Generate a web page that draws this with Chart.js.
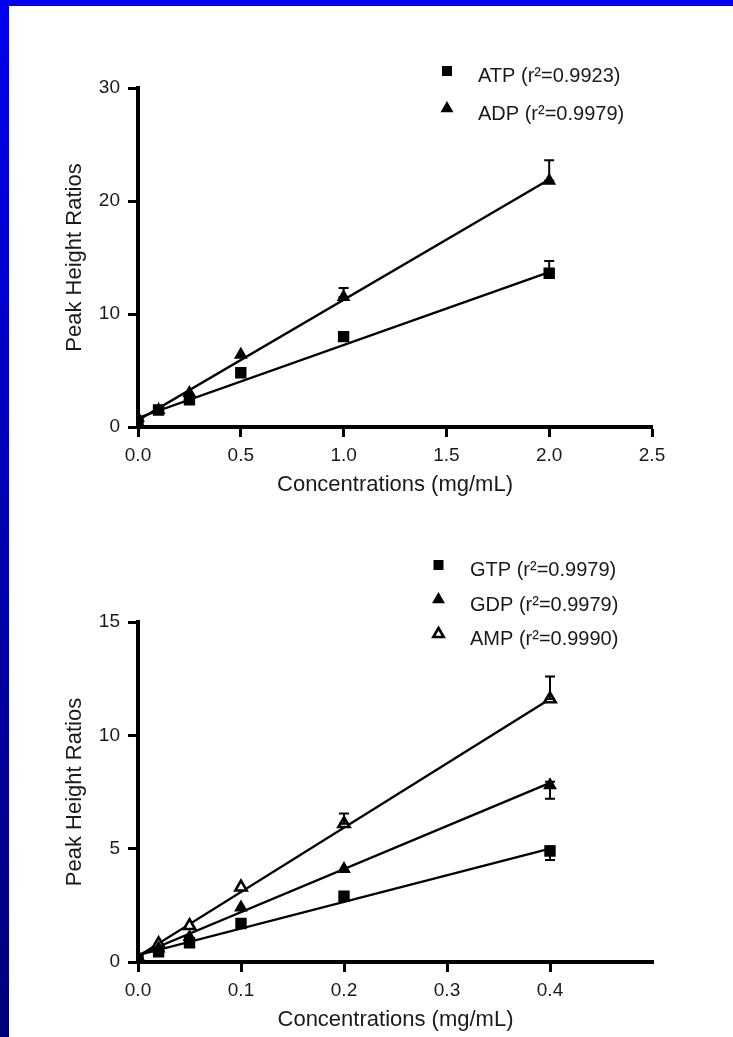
<!DOCTYPE html>
<html>
<head>
  <meta charset="utf-8" />
  <title>Peak Height Ratios</title>
  <script src="https://cdn.jsdelivr.net/npm/chart.js"></script>
  <style>
    html, body { margin: 0; padding: 0; background: #fff; }
    #page { position: relative; width: 733px; height: 1037px; overflow: hidden; background: #fff; }
    #bar-top { position: absolute; left: 0; top: 0; width: 733px; height: 6px; background: #0000ee; }
    #bar-left { position: absolute; left: 0; top: 0; width: 9px; height: 1037px; background: linear-gradient(#0000ee, #00007a); }
    canvas { position: absolute; left: 0; }
    #chart1 { top: 0; }
    #chart2 { top: 500px; }
  </style>
</head>
<body>
<div id="page">
  <canvas id="chart1" width="733" height="510"></canvas>
  <canvas id="chart2" width="733" height="537"></canvas>
  <div id="bar-top"></div>
  <div id="bar-left"></div>
</div>

<script>
  // ---- top panel: ATP / ADP ----
  const conc1 = [0, 0.1, 0.25, 0.5, 1.0, 2.0];
  const atp = [0.5, 1.5, 2.4, 4.8, 8.0, 13.6];
  const adp = [0.8, 1.5, 3.0, 6.4, 11.5, 21.8];
  // error bars [low, high], null where none is drawn
  const atpErr = [null, null, null, null, null, [13.6, 14.7]];
  const adpErr = [null, null, null, null, [11.5, 12.3], [21.8, 23.6]];
  // regression lines (start, end)
  const fitX1 = [0, 2.0];
  const atpFit = [0.8, 13.7];
  const adpFit = [0.6, 21.9];
  const xTicks1 = [0, 0.5, 1.0, 1.5, 2.0, 2.5];
  const yTicks1 = [0, 10, 20, 30];

  // ---- bottom panel: GTP / GDP / AMP ----
  const conc2 = [0, 0.02, 0.05, 0.1, 0.2, 0.4];
  const gtp = [0.1, 0.45, 0.85, 1.7, 2.9, 4.9];
  const gdp = [0.2, 0.6, 1.1, 2.4, 4.1, 7.8];
  const amp = [0.2, 0.8, 1.6, 3.3, 6.1, 11.6];
  const gtpErr = [null, null, null, null, null, [4.5, 5.1]];
  const gdpErr = [null, null, null, null, null, [7.2, 7.95]];
  const ampErr = [null, null, null, null, [6.1, 6.55], [11.6, 12.6]];
  const fitX2 = [0, 0.4];
  const gtpFit = [0.3, 5.0];
  const gdpFit = [0.3, 7.9];
  const ampFit = [0.25, 11.6];
  const xTicks2 = [0, 0.1, 0.2, 0.3, 0.4];
  const yTicks2 = [0, 5, 10, 15];

  Chart.defaults.font.family = '"Liberation Sans", Arial, sans-serif';
  Chart.defaults.color = '#1a1a1a';

  function pts(xs, ys) {
    return xs.map((x, i) => ({ x: x, y: ys[i] }));
  }

  // draw a marker the same way for points and legend
  function drawMarker(ctx, style, x, y, r, fill, bw) {
    ctx.beginPath();
    if (style === 'rect') {
      const s = r * Math.SQRT1_2;
      ctx.rect(x - s, y - s, 2 * s, 2 * s);
    } else {
      ctx.moveTo(x, y - r);
      ctx.lineTo(x + r * 0.866, y + r * 0.5);
      ctx.lineTo(x - r * 0.866, y + r * 0.5);
      ctx.closePath();
    }
    ctx.fillStyle = fill;
    ctx.fill();
    ctx.lineWidth = bw;
    ctx.strokeStyle = '#000';
    ctx.stroke();
  }

  const errorBars = {
    id: 'errorBars',
    afterDatasetsDraw(chart) {
      const { ctx, scales: { x, y } } = chart;
      ctx.save();
      ctx.strokeStyle = '#000';
      ctx.lineWidth = 2;
      chart.data.datasets.forEach(ds => {
        if (!ds.errors) return;
        ds.errors.forEach((e, i) => {
          if (!e) return;
          const px = x.getPixelForValue(ds.data[i].x);
          const lo = y.getPixelForValue(e[0]);
          const hi = y.getPixelForValue(e[1]);
          ctx.beginPath();
          ctx.moveTo(px, lo); ctx.lineTo(px, hi);
          ctx.moveTo(px - 5, lo); ctx.lineTo(px + 5, lo);
          ctx.moveTo(px - 5, hi); ctx.lineTo(px + 5, hi);
          ctx.stroke();
        });
      });
      ctx.restore();
    }
  };

  // legend floating at the top right, like the original figure
  const cornerLegend = {
    id: 'cornerLegend',
    afterDraw(chart, args, opts) {
      const ctx = chart.ctx;
      ctx.save();
      ctx.font = '20px "Liberation Sans", Arial, sans-serif';
      ctx.textBaseline = 'alphabetic';
      let row = 0;
      chart.data.datasets.forEach(ds => {
        if (!ds.inLegend) return;
        const base = opts.y + row * opts.dy;
        drawMarker(ctx, ds.pointStyle, opts.markerX, base - 11, 6, ds.pointBackgroundColor, ds.pointBorderWidth);
        ctx.fillStyle = '#1a1a1a';
        ctx.fillText(ds.label, opts.textX, base);
        row++;
      });
      ctx.restore();
    }
  };

  function markerSet(label, xs, ys, errs, style, fill) {
    return {
      label: label,
      data: pts(xs, ys),
      errors: errs,
      inLegend: true,
      pointStyle: style,
      pointRadius: style === 'rect' ? 7 : 6.5,
      pointBackgroundColor: fill,
      pointBorderColor: '#000',
      pointBorderWidth: fill === '#fff' ? 2.6 : 1.5,
      showLine: false,
      order: 1
    };
  }

  function fitSet(xs, ys) {
    return {
      label: '',
      data: pts(xs, ys),
      showLine: true,
      borderColor: '#000',
      borderWidth: 2.4,
      pointRadius: 0,
      order: 2
    };
  }

  function axes(xMax, xTicks, yMax, yTicks, xFmt, xAxisH, titleBottom) {
    const grid = { display: true, drawOnChartArea: false, drawTicks: true, tickLength: 10, tickWidth: 3, tickColor: '#000' };
    const border = { display: true, color: '#000', width: 4 };
    return {
      x: {
        type: 'linear', min: 0, max: xMax,
        grid: grid, border: border,
        afterBuildTicks: s => { s.ticks = xTicks.map(v => ({ value: v })); },
        afterFit: s => { s.height = xAxisH; },
        ticks: { font: { size: 19 }, padding: 7, maxRotation: 0, autoSkip: false, callback: v => xFmt(v) },
        title: { display: true, text: 'Concentrations (mg/mL)', font: { size: 22 }, color: '#1a1a1a', padding: { top: 0, bottom: titleBottom } }
      },
      y: {
        type: 'linear', min: 0, max: yMax,
        grid: grid, border: border,
        afterBuildTicks: s => { s.ticks = yTicks.map(v => ({ value: v })); },
        afterFit: s => { s.width = 138; },
        ticks: { font: { size: 19 }, padding: 8 },
        title: { display: true, text: 'Peak Height Ratios', font: { size: 22 }, color: '#1a1a1a', padding: { top: 62, bottom: 0 } }
      }
    };
  }

  new Chart(document.getElementById('chart1'), {
    type: 'scatter',
    data: {
      datasets: [
        fitSet(fitX1, atpFit),
        fitSet(fitX1, adpFit),
        markerSet('ATP (r\u00B2=0.9923)', conc1, atp, atpErr, 'rect', '#000'),
        markerSet('ADP (r\u00B2=0.9979)', conc1, adp, adpErr, 'triangle', '#000')
      ]
    },
    options: {
      responsive: false,
      animation: false,
      events: [],
      layout: { padding: { top: 88, right: 81, left: 0, bottom: 0 } },
      scales: axes(2.5, xTicks1, 30, yTicks1, v => v.toFixed(1), 83, 12),
      plugins: {
        legend: { display: false },
        tooltip: { enabled: false },
        cornerLegend: { markerX: 447, textX: 478, y: 82, dy: 37.5 }
      }
    },
    plugins: [errorBars, cornerLegend]
  });

  new Chart(document.getElementById('chart2'), {
    type: 'scatter',
    data: {
      datasets: [
        fitSet(fitX2, gtpFit),
        fitSet(fitX2, gdpFit),
        fitSet(fitX2, ampFit),
        markerSet('GTP (r\u00B2=0.9979)', conc2, gtp, gtpErr, 'rect', '#000'),
        markerSet('GDP (r\u00B2=0.9979)', conc2, gdp, gdpErr, 'triangle', '#000'),
        markerSet('AMP (r\u00B2=0.9990)', conc2, amp, ampErr, 'triangle', '#fff')
      ]
    },
    options: {
      responsive: false,
      animation: false,
      events: [],
      layout: { padding: { top: 122, right: 80, left: 0, bottom: 0 } },
      scales: axes(0.5, xTicks2, 15, yTicks2, v => v.toFixed(1), 75, 4),
      plugins: {
        legend: { display: false },
        tooltip: { enabled: false },
        cornerLegend: { markerX: 438.5, textX: 470, y: 76, dy: 34.5 }
      }
    },
    plugins: [errorBars, cornerLegend]
  });
</script>
</body>
</html>
